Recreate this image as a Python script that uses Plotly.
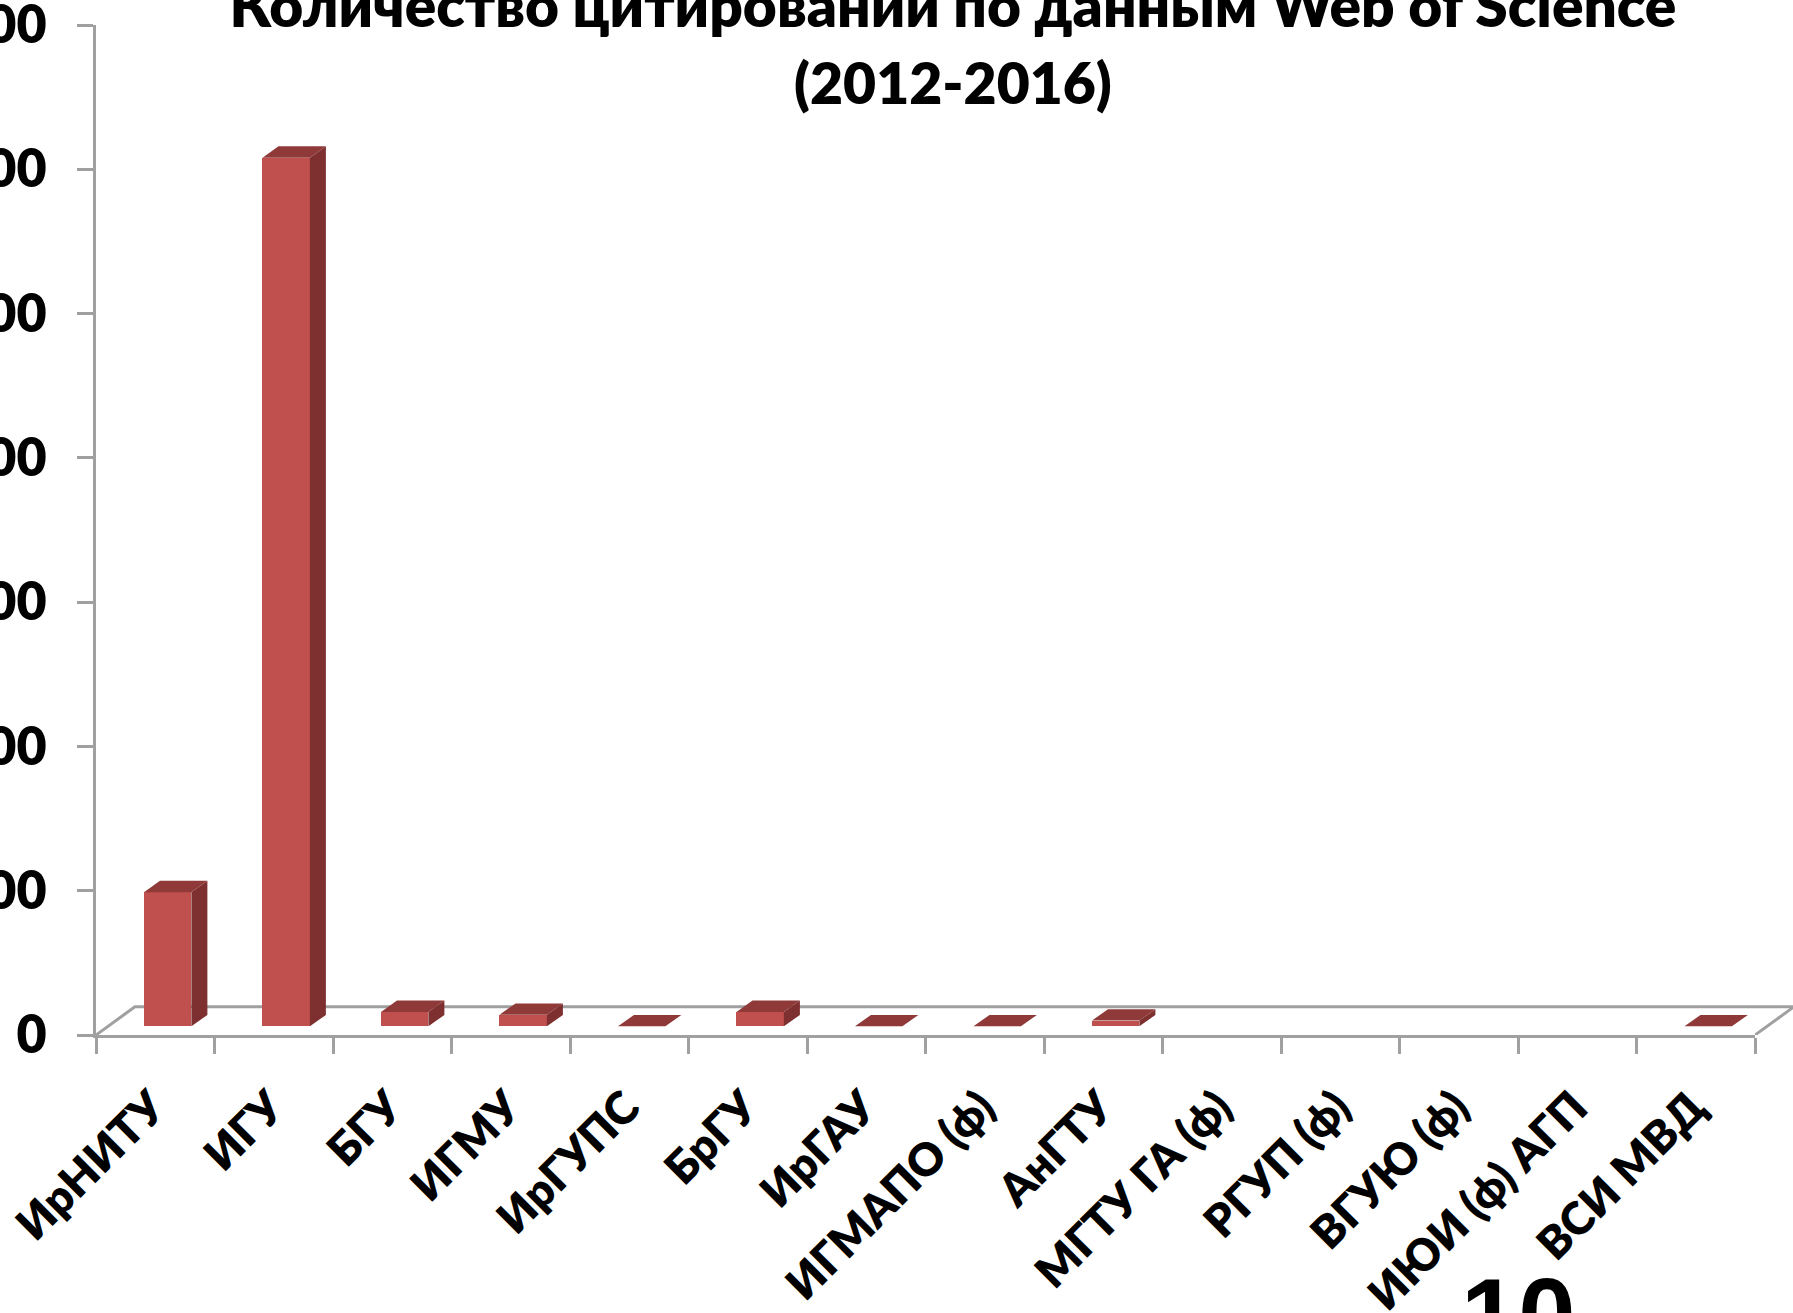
import plotly.graph_objects as go

categories = ["ИрНИТУ", "ИГУ", "БГУ", "ИГМУ", "ИрГУПС", "БрГУ", "ИрГАУ", "ИГМАПО (ф)",
              "АнГТУ", "МГТУ ГА (ф)", "РГУП (ф)", "ВГУЮ (ф)", "ИЮИ (ф) АГП", "ВСИ МВД"]
citations = [93, 602, 10, 8, 0, 10, 0, 0, 4, None, None, None, None, 0]
y_ticks = [0, 100, 200, 300, 400, 500, 600, 700]
title_lines = ["Количество цитирований по данным Web of Science", "(2012-2016)"]
page_number = "10"

W, H = 1793, 1313
X0, X1, Y_TOP, Y_ZERO = 96, 1755, 25, 1035
AX = "#a0a0a0"
FRONT, TOP, SIDE = "#C0504D", "#8F3A38", "#7D302F"
FONT = "Lato"

BAR_W = 0.40       # bar width in category units
BAR_START = -0.095 # bar left edge relative to category centre
BAR_BASE = 6.0     # front plane lift, axis units
DX, DY = 0.135, 7.9  # bar depth
FLOOR_DX, FLOOR_DY = 0.328, 19.5
LABEL_SHIFT = 0.025  # category labels sit slightly left of the cell centre
n = len(categories)
px_per_cat = (X1 - X0) / n
edge_span = (W - X1) / px_per_cat

fig = go.Figure()

# floor outline under the bars
fig.add_trace(go.Scatter(
    x=[-0.5, -0.5 + FLOOR_DX, n - 0.5], y=[0, FLOOR_DY, FLOOR_DY],
    mode="lines", line=dict(color=AX, width=3), cliponaxis=False,
    hoverinfo="skip", showlegend=False, xaxis="x", yaxis="y"))

# invisible carrier of the category labels
fig.add_trace(go.Scatter(
    x=categories, y=[0] * n, mode="markers", marker=dict(opacity=0, size=1),
    hoverinfo="skip", showlegend=False, xaxis="x2", yaxis="y"))

# front faces
idx = [i for i, v in enumerate(citations) if v is not None]
fig.add_trace(go.Bar(
    x=idx, y=[citations[i] for i in idx], base=BAR_BASE,
    width=BAR_W, offset=BAR_START,
    marker=dict(color=FRONT, line=dict(width=0)),
    hovertemplate="%{y}<extra></extra>", showlegend=False, xaxis="x3", yaxis="y"))

# side and top faces
side_x, side_y, top_x, top_y = [], [], [], []
for i in idx:
    v = citations[i]
    l, r = i + BAR_START, i + BAR_START + BAR_W
    b, t = BAR_BASE, BAR_BASE + v
    if v > 0:
        side_x += [r, r + DX, r + DX, r, r, None]
        side_y += [b, b + DY, t + DY, t, b, None]
    top_x += [l, l + DX, r + DX, r, l, None]
    top_y += [t, t + DY, t + DY, t, t, None]
fig.add_trace(go.Scatter(x=side_x, y=side_y, mode="lines", fill="toself", fillcolor=SIDE,
                         line=dict(width=0), hoverinfo="skip", showlegend=False,
                         cliponaxis=False, xaxis="x3", yaxis="y"))
fig.add_trace(go.Scatter(x=top_x, y=top_y, mode="lines", fill="toself", fillcolor=TOP,
                         line=dict(width=0), hoverinfo="skip", showlegend=False,
                         cliponaxis=False, xaxis="x3", yaxis="y"))

# right end of the floor, in the strip between the plot and the page edge
fig.add_trace(go.Scatter(
    x=[n - 0.5, n - 0.5 + FLOOR_DX, n - 0.5], y=[FLOOR_DY, FLOOR_DY, 0],
    mode="lines", line=dict(color=AX, width=3), cliponaxis=False,
    hoverinfo="skip", showlegend=False, xaxis="x4", yaxis="y"))

dom_x = [X0 / W, X1 / W]
dom_y = [(H - Y_ZERO) / H, (H - Y_TOP) / H]
xr = [-0.5, n - 0.5]
cat_font = dict(family=FONT, size=45, color="black", weight=800)
val_font = dict(family=FONT, size=52, color="black", weight=800)

fig.update_layout(
    width=W, height=H, margin=dict(l=0, r=0, t=0, b=0, autoexpand=False),
    paper_bgcolor="white", plot_bgcolor="rgba(0,0,0,0)",
    title=dict(text=title_lines[0], font=dict(family=FONT, size=58.6, color="black", weight=800),
               x=953 / W, xanchor="center", y=1 - 27 / H, yanchor="bottom", yref="paper"),
    annotations=[
        dict(text=title_lines[1], xref="paper", yref="paper", x=953 / W, y=1 - 118 / H,
             xanchor="center", yanchor="bottom", showarrow=False,
             font=dict(family=FONT, size=57, color="black", weight=800)),
        dict(text=page_number, xref="paper", yref="paper", x=1518 / W, y=1 - 1256 / H,
             xanchor="center", yanchor="top", showarrow=False,
             font=dict(family="Liberation Sans", size=103, color="black", weight=700)),
    ],
    xaxis=dict(domain=dom_x, range=xr, type="linear", tickmode="array",
               tickvals=[i - 0.5 for i in range(n + 1)], ticks="outside", ticklen=16,
               tickwidth=2.5, tickcolor=AX, showticklabels=False, showgrid=False,
               zeroline=False, showline=True, linecolor=AX, linewidth=3),
    xaxis2=dict(domain=dom_x, anchor="y", overlaying="x", type="category",
                categoryorder="array", categoryarray=categories,
                range=[xr[0] + LABEL_SHIFT, xr[1] + LABEL_SHIFT],
                ticks="", showline=False, showgrid=False, zeroline=False,
                tickangle=-45, tickfont=cat_font, ticklabelstandoff=36,
                tickmode="array", tickvals=categories, ticktext=categories),
    xaxis3=dict(domain=dom_x, anchor="y", overlaying="x", type="linear", range=xr,
                visible=False),
    xaxis4=dict(domain=[X1 / W, 1], anchor="y", type="linear",
                range=[n - 0.5, n - 0.5 + edge_span], visible=False),
    yaxis=dict(domain=dom_y, range=[0, 700], tickmode="array", tickvals=y_ticks,
               ticks="outside", ticklen=16, tickwidth=2.5, tickcolor=AX,
               showline=True, linecolor=AX, linewidth=3, showgrid=False, zeroline=False,
               tickfont=val_font, ticklabelstandoff=20, ticklabeloverflow="allow"),
    bargap=0,
)

fig.write_html("out.html", config={"displayModeBar": False},
               post_script="document.body.style.margin='0';")
